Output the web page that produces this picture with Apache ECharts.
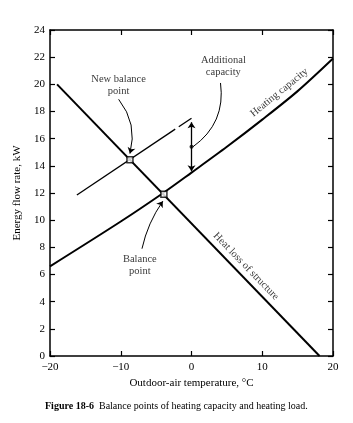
<!DOCTYPE html>
<html>
<head>
<meta charset="utf-8">
<script src="https://cdn.jsdelivr.net/npm/echarts@6/dist/echarts.min.js"></script>
<style>
  html, body { margin: 0; padding: 0; background: #fff; }
  #chart { width: 353px; height: 423px; }
</style>
</head>
<body>
<div id="chart"></div>
<script>
// axis ranges
var xMin = -20, xMax = 20, xStep = 10;
var yMin = 0, yMax = 24, yStep = 2;

// curves (temperature degC, kW)
var heatLoss = [[-19, 20], [18.1, 0]];
var heatingCapacity = [[-20, 6.6], [-10, 9.9], [-4, 12.0], [0, 13.5], [5, 15.4], [10, 17.4], [15, 19.5], [20, 21.9]];
var newCapacityA = [[-16.2, 11.85], [-2.3, 16.7]];
var newCapacityB = [[-1.8, 16.88], [0, 17.5]];
var balancePoints = [[-3.9, 11.9], [-8.7, 14.45]];

// annotation
var additionalArrow = [[0, 13.6], [0, 17.2]];
var additionalDot = [[0, 15.4]];
var leaderNew = [[-10.3, 18.9], [-8.7, 14.9]];
var leaderBalance = [[-7.0, 7.9], [-4.05, 11.4]];
var leaderAdditional = [[0.2, 15.4], [4.1, 20.1]];
var notes = [
    {name: 'New balance\npoint', value: [-10.3, 19.95], rotate: 0},
    {name: 'Additional\ncapacity', value: [4.5, 21.35], rotate: 0},
    {name: 'Balance\npoint', value: [-7.3, 6.7], rotate: 0},
    {name: 'Heating capacity', value: [12.4, 19.4], rotate: 39},
    {name: 'Heat loss of structure', value: [7.7, 6.6], rotate: -46}
];

var ink = '#000';
var font = 'Liberation Serif';

function minus(v) { return String(v).replace('-', '\u2212'); }

var frameLine = {onZero: false, lineStyle: {color: ink, width: 1.5}};
var tick = {show: true, inside: true, length: 5, lineStyle: {color: ink, width: 1.2}};

var myChart = echarts.init(document.getElementById('chart'));
var option = {
    animation: false,
    backgroundColor: '#fff',
    textStyle: {fontFamily: font, color: ink},
    title: {
        left: 40,
        top: 396,
        text: '{b|Figure 18-6}  Balance points of heating capacity and heating load.',
        textStyle: {
            fontFamily: font, fontSize: 10, fontWeight: 'normal', color: ink,
            rich: {b: {fontFamily: font, fontSize: 10, fontWeight: 'bold', color: ink}}
        }
    },
    grid: {left: 50, right: 20, top: 30, bottom: 67},
    xAxis: [
        {
            type: 'value', min: xMin, max: xMax, interval: xStep,
            name: 'Outdoor-air temperature, \u00b0C',
            nameLocation: 'middle', nameGap: 18,
            nameTextStyle: {fontFamily: font, fontSize: 11, color: ink},
            axisLine: frameLine,
            axisTick: tick,
            axisLabel: {fontFamily: font, fontSize: 11, color: ink, margin: 6, formatter: minus},
            splitLine: {show: false}
        },
        {
            type: 'value', position: 'top', min: xMin, max: xMax, interval: xStep,
            axisLine: frameLine,
            axisTick: tick,
            axisLabel: {show: false},
            splitLine: {show: false}
        }
    ],
    yAxis: [
        {
            type: 'value', min: yMin, max: yMax, interval: yStep,
            name: 'Energy flow rate, kW',
            nameLocation: 'middle', nameGap: 18,
            nameTextStyle: {fontFamily: font, fontSize: 11, color: ink},
            axisLine: {show: true, onZero: false, lineStyle: {color: ink, width: 1.5}},
            axisTick: tick,
            axisLabel: {fontFamily: font, fontSize: 11, color: ink, margin: 5},
            splitLine: {show: false}
        },
        {
            type: 'value', position: 'right', min: yMin, max: yMax, interval: yStep,
            axisLine: {show: true, onZero: false, lineStyle: {color: ink, width: 1.5}},
            axisTick: tick,
            axisLabel: {show: false},
            splitLine: {show: false}
        }
    ],
    series: [
        {
            name: 'Heat loss', type: 'line', data: heatLoss, symbol: 'none',
            lineStyle: {color: ink, width: 2}
        },
        {
            name: 'Heating capacity', type: 'line', data: heatingCapacity, symbol: 'none',
            smooth: 0.3, lineStyle: {color: ink, width: 2}
        },
        {
            name: 'New capacity a', type: 'line', data: newCapacityA, symbol: 'none',
            lineStyle: {color: ink, width: 1.3}
        },
        {
            name: 'New capacity b', type: 'line', data: newCapacityB, symbol: 'none',
            lineStyle: {color: ink, width: 1.3}
        },
        {
            name: 'Balance', type: 'scatter', data: balancePoints, z: 5,
            symbol: 'rect', symbolSize: 6,
            itemStyle: {color: '#fff', borderColor: ink, borderWidth: 1.5}
        },
        {
            name: 'Dot', type: 'scatter', data: additionalDot, z: 5,
            symbolSize: 4, itemStyle: {color: ink}
        },
        {
            name: 'Additional', type: 'lines', coordinateSystem: 'cartesian2d',
            symbol: ['arrow', 'arrow'], symbolSize: 6,
            lineStyle: {color: ink, width: 1.3, opacity: 1},
            data: [{coords: additionalArrow}]
        },
        {
            name: 'Leaders', type: 'lines', coordinateSystem: 'cartesian2d',
            symbol: ['none', 'arrow'], symbolSize: 6,
            lineStyle: {color: ink, width: 1, opacity: 1},
            data: [
                {coords: leaderNew, lineStyle: {curveness: 0.25}},
                {coords: leaderBalance, lineStyle: {curveness: 0.1}}
            ]
        },
        {
            name: 'Leader additional', type: 'lines', coordinateSystem: 'cartesian2d',
            symbol: ['none', 'none'],
            lineStyle: {color: ink, width: 1, opacity: 1, curveness: -0.3},
            data: [{coords: leaderAdditional}]
        },
        {
            name: 'Notes', type: 'scatter', symbolSize: 0, silent: true,
            data: notes.map(function (n) {
                return {
                    name: n.name, value: n.value,
                    label: {rotate: n.rotate}
                };
            }),
            label: {
                show: true, position: 'inside', formatter: '{b}',
                fontFamily: font, fontSize: 10.5, color: ink, lineHeight: 12,
                align: 'center', verticalAlign: 'middle'
            }
        }
    ]
};

myChart.setOption(option);
</script>
</body>
</html>
